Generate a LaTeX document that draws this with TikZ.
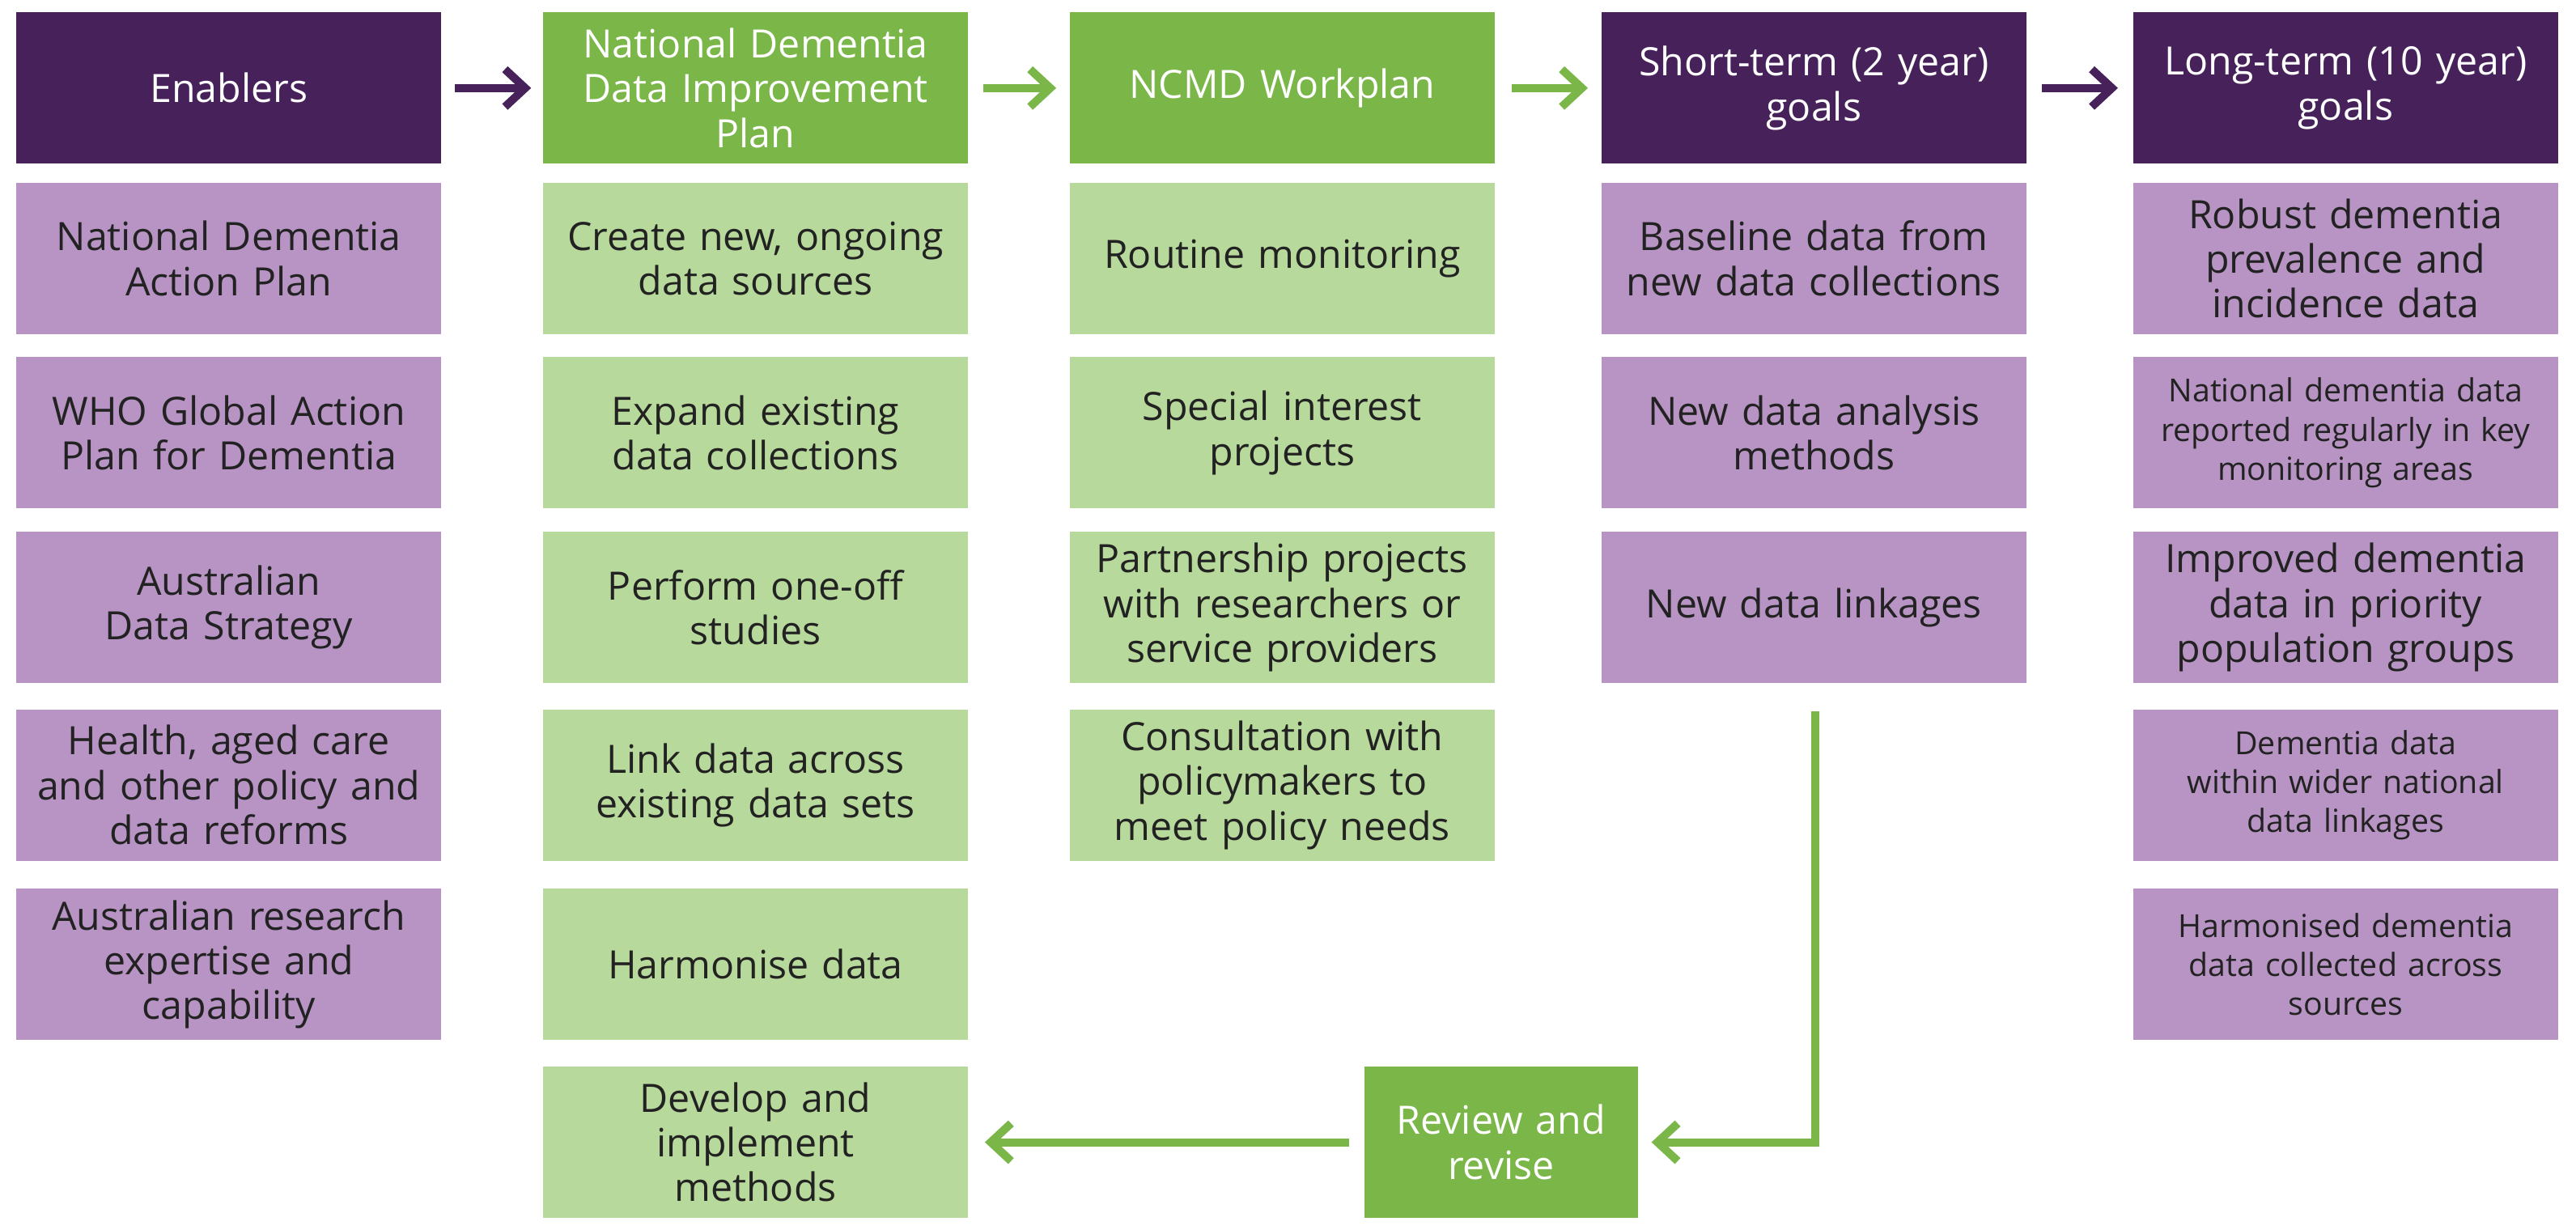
\documentclass[tikz,border=0pt]{standalone}
\usepackage{fontspec}
\setmainfont{Open Sans}
\usetikzlibrary{arrows.meta}
\definecolor{dp}{HTML}{47215A}
\definecolor{lp}{HTML}{B794C4}
\definecolor{dg}{HTML}{7AB648}
\definecolor{lg}{HTML}{B8D99C}
\definecolor{tx}{HTML}{222222}
\begin{document}
\begin{tikzpicture}[x=0.02cm,y=-0.02cm,
 box/.style={minimum width=5.16cm,minimum height=1.84cm,text width=4.9cm,align=center,inner sep=0pt,font=\fontsize{13.5}{15.5}\selectfont,text=tx},
 hp/.style={box,fill=dp,text=white},
 hg/.style={box,fill=dg,text=white},
 bp/.style={box,fill=lp},
 bg/.style={box,fill=lg},
 sm/.style={font=\fontsize{11}{13.5}\selectfont},
 ar/.style={line width=2.8pt,-{Straight Barb[length=7pt,width=13pt,line width=2.8pt]}},
]
\useasboundingbox (0,0) rectangle (1565,747);
\node[hp] (h1) at (139,53.5) {Enablers};
\node[hg] (h2) at (459,53.5) {National Dementia\\Data Improvement\\Plan};
\node[hg] (h3) at (779,53.5) {NCMD Workplan};
\node[hp] (h4) at (1102,53.5) {Short-term (2 year)\\goals};
\node[hp] (h5) at (1425,53.5) {Long-term (10 year)\\goals};
\draw[ar,dp] (h1.east)++(8,0) coordinate (a1) (a1) -- ([xshift=-7*0.02cm]h2.west);
\draw[ar,dg] ([xshift=9*0.02cm]h2.east) -- ([xshift=-8*0.02cm]h3.west);
\draw[ar,dg] ([xshift=10*0.02cm]h3.east) -- ([xshift=-8*0.02cm]h4.west);
\draw[ar,dp] ([xshift=9*0.02cm]h4.east) -- ([xshift=-9*0.02cm]h5.west);

\node[bp] (e1) at (139,157) {National Dementia\\Action Plan};
\node[bp] (e2) at (139,263) {WHO Global Action\\Plan for Dementia};
\node[bp] (e3) at (139,369) {Australian\\Data Strategy};
\node[bp] (e4) at (139,477) {Health, aged care\\and other policy and\\data reforms};
\node[bp] (e5) at (139,586) {Australian research\\expertise and\\capability};

\node[bg] (p1) at (459,157) {Create new, ongoing\\data sources};
\node[bg] (p2) at (459,263) {Expand existing\\data collections};
\node[bg] (p3) at (459,369) {Perform one-off\\studies};
\node[bg] (p4) at (459,477) {Link data across\\existing data sets};
\node[bg] (p5) at (459,586) {Harmonise data};
\node[bg] (p6) at (459,694) {Develop and\\implement\\methods};

\node[bg] (w1) at (779,157) {Routine monitoring};
\node[bg] (w2) at (779,263) {Special interest\\projects};
\node[bg] (w3) at (779,369) {Partnership projects\\with researchers or\\service providers};
\node[bg] (w4) at (779,477) {Consultation with\\policymakers to\\meet policy needs};

\node[bp] (s1) at (1102,157) {Baseline data from\\new data collections};
\node[bp] (s2) at (1102,263) {New data analysis\\methods};
\node[bp] (s3) at (1102,369) {New data linkages};

\node[bp] (l1) at (1425,157) {Robust dementia\\prevalence and\\incidence data};
\node[bp,sm] (l2) at (1425,263) {National dementia data\\reported regularly in key\\monitoring areas};
\node[bp] (l3) at (1425,369) {Improved dementia\\data in priority\\population groups};
\node[bp,sm] (l4) at (1425,477) {Dementia data\\within wider national\\data linkages};
\node[bp,sm] (l5) at (1425,586) {Harmonised dementia\\data collected across\\sources};

\node[hg,minimum width=3.32cm,text width=3.2cm] (rv) at (912,694) {Review and\\revise};
\coordinate (c1) at (1103,432);
\draw[ar,dg] (c1) |- ([xshift=8*0.02cm]rv.east);
\draw[ar,dg] ([xshift=-9*0.02cm]rv.west) -- ([xshift=10*0.02cm]p6.east);
\end{tikzpicture}
\end{document}
